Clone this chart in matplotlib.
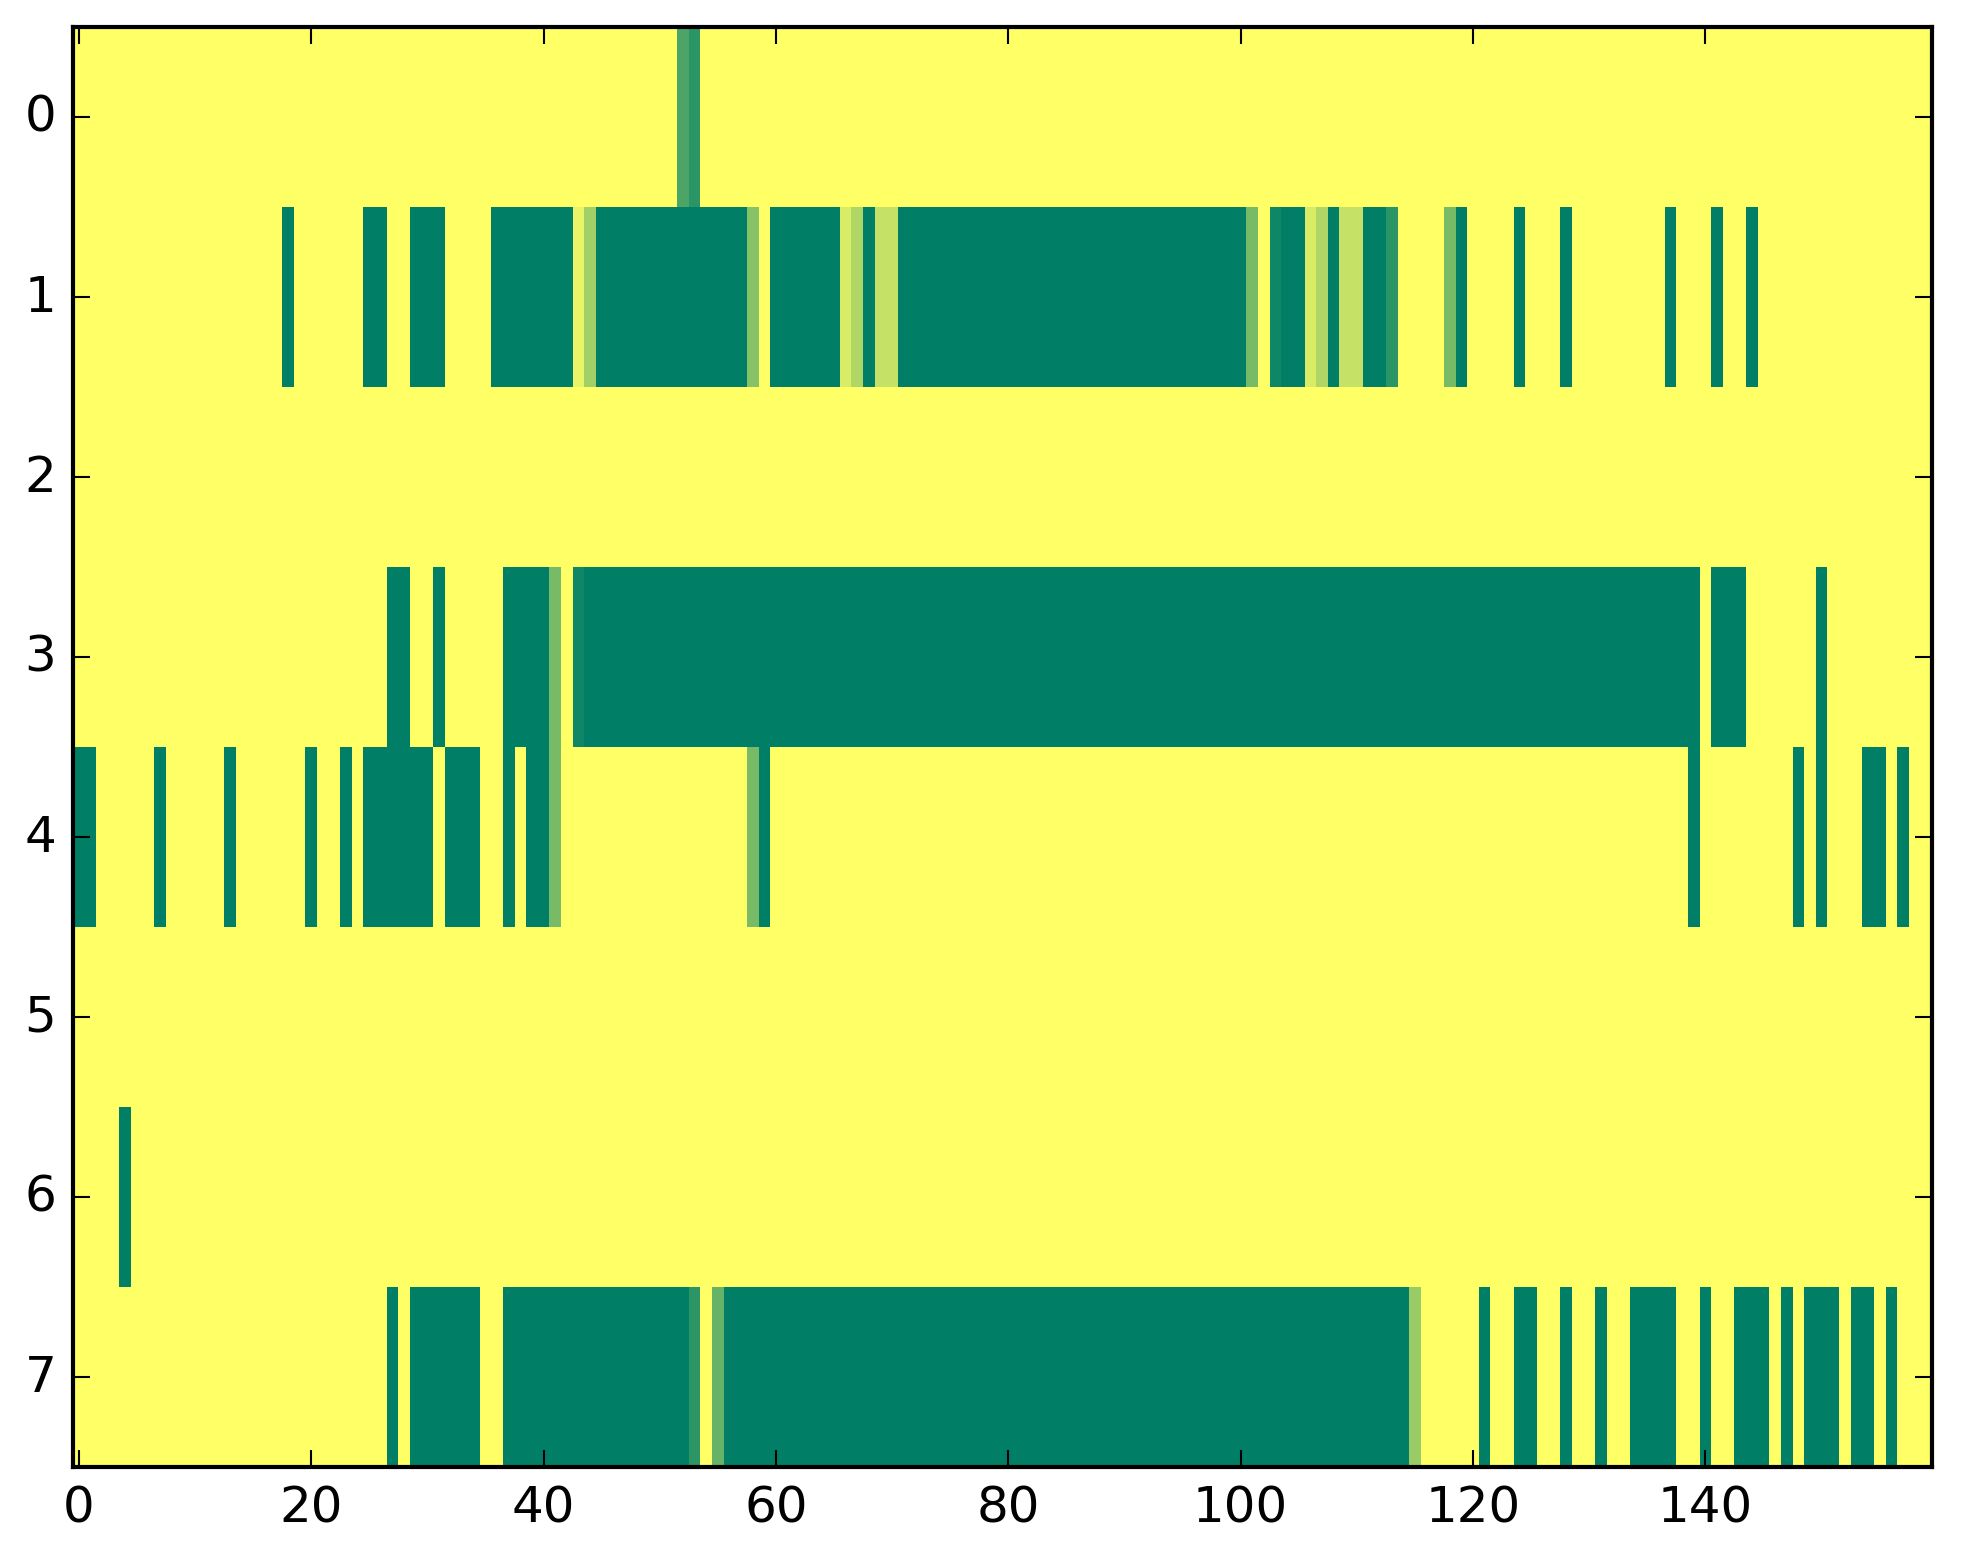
import numpy as np
import matplotlib
matplotlib.use('Agg')
import matplotlib.pyplot as plt

n_rows = 8
n_cols = 160

# runs per row: (first column, last column, value); everything else is 1.0
row0_runs = [(52, 52, 0.30), (53, 53, 0.17)]
row1_runs = [(18, 18, 0), (25, 26, 0), (29, 31, 0), (36, 42, 0), (43, 43, 0.92),
             (44, 44, 0.63), (45, 57, 0), (58, 58, 0.53), (60, 65, 0), (66, 66, 0.85),
             (67, 67, 0.69), (68, 68, 0), (69, 70, 0.77), (71, 100, 0), (101, 101, 0.47),
             (103, 103, 0.06), (104, 105, 0), (106, 106, 0.85), (107, 107, 0.69),
             (108, 108, 0), (109, 110, 0.77), (111, 112, 0), (113, 113, 0.17),
             (118, 118, 0.47), (119, 119, 0), (124, 124, 0), (128, 128, 0),
             (137, 137, 0), (141, 141, 0), (144, 144, 0)]
row2_runs = []
row3_runs = [(27, 28, 0), (31, 31, 0), (37, 40, 0), (41, 41, 0.47), (43, 43, 0.06),
             (44, 139, 0), (141, 143, 0), (150, 150, 0)]
row4_runs = [(0, 1, 0), (7, 7, 0), (13, 13, 0), (20, 20, 0), (23, 23, 0), (25, 30, 0),
             (32, 34, 0), (37, 37, 0), (39, 40, 0), (41, 41, 0.47), (58, 58, 0.47),
             (59, 59, 0), (139, 139, 0), (148, 148, 0), (150, 150, 0), (154, 155, 0),
             (157, 157, 0)]
row5_runs = []
row6_runs = [(4, 4, 0)]
row7_runs = [(27, 27, 0), (29, 34, 0), (37, 52, 0), (53, 53, 0.17), (55, 55, 0.40),
             (56, 114, 0), (115, 115, 0.60), (121, 121, 0), (124, 125, 0), (128, 128, 0),
             (131, 131, 0), (134, 137, 0), (140, 140, 0), (143, 145, 0), (147, 147, 0),
             (149, 151, 0), (153, 154, 0), (156, 156, 0)]

all_runs = [row0_runs, row1_runs, row2_runs, row3_runs,
            row4_runs, row5_runs, row6_runs, row7_runs]

table = np.ones((n_rows, n_cols))
for r, runs in enumerate(all_runs):
    for a, b, v in runs:
        table[r, a:b + 1] = v

plt.style.use('classic')
fig = plt.figure(figsize=(1963 / 300, 1564 / 300), dpi=300, facecolor='white')
ax = fig.add_axes([0.0372, 0.0614, 0.9470, 0.9207])
ax.imshow(table, cmap='summer', aspect='auto', interpolation='nearest', vmin=0, vmax=1)
ax.set_xticks(np.arange(0, 141, 20))
ax.set_yticks(np.arange(0, 8))
ax.set_xlim(-0.5, n_cols - 0.5)
ax.set_ylim(n_rows - 0.5, -0.5)

fig.savefig('out.png', dpi=300, facecolor='white')
